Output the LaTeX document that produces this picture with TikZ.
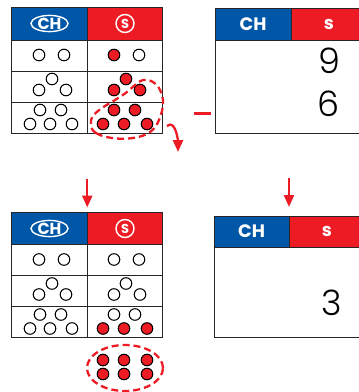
\documentclass[tikz,border=0pt]{standalone}
\usepackage{fontspec}
\setmainfont{Poppins}
\newfontfamily\cifras{Poppins Light}
\usepackage{xcolor}
\usepackage{tikz}
\usetikzlibrary{positioning, arrows.meta, shapes.geometric}
\definecolor{azul}{RGB}{0,87,168}
\definecolor{rojo}{RGB}{237,28,36}

\begin{document}
\begin{tikzpicture}[x=1pt, y=-1pt,
  celda/.style={draw=black!85, line width=0.8pt, minimum width=75.5pt,
                minimum height=31pt, inner sep=0pt, outer sep=0pt},
  cab/.style={celda, minimum height=33pt, text=white,
              font=\bfseries\fontsize{18}{18}\selectfont},
  sello/.style={draw=white, line width=1.4pt, inner sep=0pt, text=white},
  bola/.style={draw=black, line width=1pt},
  llena/.style={bola, fill=rojo},
  flecha/.style={-{Triangle[length=12pt, width=10pt]}, rojo, line width=2.3pt},
  lazo/.style={rojo, line width=2.3pt, dash pattern=on 7pt off 4pt},
  cifra/.style={font=\cifras\fontsize{35}{35}\selectfont}]
\clip (0,0) rectangle (359,392);
% tabla de fichas, arriba
\node[cab, fill=azul] (sup-ch) at (49.5,23.5) {};
\node[cab, fill=rojo, right=0pt of sup-ch] (sup-s) {};
\node[sello, ellipse, minimum width=37pt, minimum height=16pt,
      font=\bfseries\fontsize{16}{16}\selectfont] (sup-ch-sello) at (sup-ch) {CH};
\node[sello, circle, minimum size=18pt,
      font=\bfseries\fontsize{13}{13}\selectfont] (sup-s-sello) at (sup-s) {S};
\foreach \f in {1,2,3} {
  \node[celda] (sup-ch-\f) at (49.5,{24.5+31*\f}) {};
  \node[celda] (sup-s-\f) at (125,{24.5+31*\f}) {};
}
\foreach \x/\y in {39/55, 64/55, 139/55, 52/79, 39/90, 66/90,
                   40/110, 61/110, 30/124, 50/124, 72/124}
  \draw[bola] (\x,\y) circle[radius=5.8pt];
\foreach \x/\y in {114/55, 126/79, 114/90, 140/90,
                   114/110, 135/110, 103/124, 124/124, 147/124}
  \draw[llena] (\x,\y) circle[radius=5.8pt];
\draw[lazo] plot[smooth cycle, tension=0.7] coordinates {(91,125) (96,133)
  (112,138) (133,138) (150,132) (159,120) (163,103) (160,90) (153,82)
  (143,80) (135,85) (127,92) (115,100) (102,108) (93,116)};
% tabla de fichas, abajo
\begin{scope}[shift={(0,204.5)}]
\node[cab, fill=azul, minimum height=32pt] (inf-ch) at (49.5,24) {};
\node[cab, fill=rojo, minimum height=32pt, right=0pt of inf-ch] (inf-s) {};
\node[sello, ellipse, minimum width=37pt, minimum height=16pt,
      font=\bfseries\fontsize{16}{16}\selectfont] (inf-ch-sello) at (inf-ch) {CH};
\node[sello, circle, minimum size=18pt,
      font=\bfseries\fontsize{13}{13}\selectfont] (inf-s-sello) at (inf-s) {S};
\foreach \f in {1,2,3} {
  \node[celda] (inf-ch-\f) at (49.5,{24.5+31*\f}) {};
  \node[celda] (inf-s-\f) at (125,{24.5+31*\f}) {};
}
\foreach \x/\y in {39/55, 64/55, 114/55, 139/55, 52/79, 39/90, 66/90,
                   126/79, 114/90, 140/90, 40/110, 61/110, 30/124, 50/124,
                   72/124, 114/110, 135/110}
  \draw[bola] (\x,\y) circle[radius=5.8pt];
\foreach \x/\y in {103/124, 124/124, 147/124}
  \draw[llena] (\x,\y) circle[radius=5.8pt];
\end{scope}
\foreach \x/\y in {103/360, 124/360, 147/360, 103/374, 124/374, 147/374}
  \draw[llena] (\x,\y) circle[radius=5.8pt];
\draw[lazo] (125,368) ellipse[x radius=38pt, y radius=23pt];
% tablas de cifras
\node[cab, fill=azul, minimum width=76pt, minimum height=32pt] (der-ch) at (253,24) {CH};
\node[cab, fill=rojo, minimum width=76pt, minimum height=32pt, right=0pt of der-ch] (der-s) {s};
\node[celda, anchor=north west, minimum width=152pt, minimum height=93pt]
  (der-cuerpo) at (der-ch.south west) {};
\node[cifra] (nueve) at (329,61) {9};
\node[cifra] (seis) at (329,104) {6};
\node[fill=rojo, minimum width=17pt, minimum height=3pt, inner sep=0pt] (menos) at (202.5,113) {};
\node[cab, fill=azul, minimum width=75pt, minimum height=31pt] (res-ch) at (251.5,231.5) {CH};
\node[cab, fill=rojo, minimum width=76pt, minimum height=31pt, right=0pt of res-ch] (res-s) {s};
\node[celda, anchor=north west, minimum width=151pt, minimum height=90pt]
  (res-cuerpo) at (res-ch.south west) {};
\node[cifra] (tres) at (332,303) {3};
% flechas
\draw[flecha] ([yshift=34pt]inf-ch.north east) -- ([yshift=5pt]inf-ch.north east);
\draw[flecha] ([yshift=38pt]res-ch.north east) -- ([yshift=9pt]res-ch.north east);
\coordinate (giro-a) at (167,126);
\coordinate (giro-b) at (178,152);
\draw[flecha] (giro-a) to[out=40, in=90] (giro-b);
\end{tikzpicture}
\end{document}
